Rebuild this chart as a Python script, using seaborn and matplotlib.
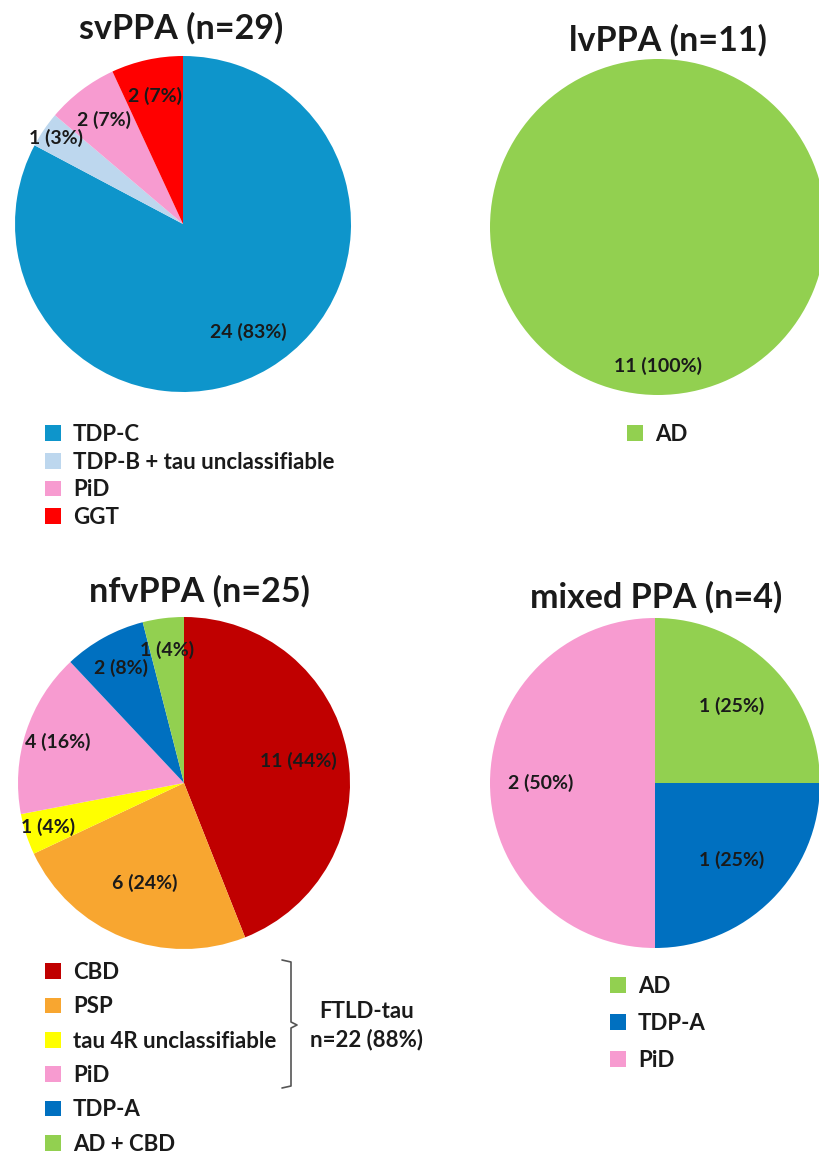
import numpy as np
import matplotlib
matplotlib.use("Agg")
from matplotlib import pyplot as plt
from matplotlib.patches import Patch
from matplotlib.lines import Line2D
import seaborn as sns

sns.set_theme(style="white")
plt.rcParams['font.family'] = ['Lato', 'DejaVu Sans']

# --- data ---
sv_labels = ["TDP-C", "TDP-B + tau unclassifiable", "PiD", "GGT"]
sv_counts = [24, 1, 2, 2]

lv_labels = ["AD"]
lv_counts = [11]

nfv_labels = ["CBD", "PSP", "tau 4R unclassifiable", "PiD", "TDP-A", "AD + CBD"]
nfv_counts = [11, 6, 1, 4, 2, 1]

mixed_labels = ["AD", "TDP-A", "PiD"]
mixed_counts = [1, 1, 2]

colors = {
    "TDP-C": "#0E95CB",
    "TDP-B + tau unclassifiable": "#BDD7EE",
    "PiD": "#F79BD0",
    "GGT": "#FF0000",
    "AD": "#92D050",
    "AD + CBD": "#92D050",
    "CBD": "#C00000",
    "PSP": "#F8A630",
    "tau 4R unclassifiable": "#FFFF00",
    "TDP-A": "#0070C0",
}

W, H = 820, 1154
fig = plt.figure(figsize=(W / 100, H / 100), dpi=100)
TXT = "#1a1a1a"


def fx(x):
    return x / W


def fy(y):
    return 1 - y / H


def draw_pie(cx, cy, r, labels, counts, title, title_xy, label_dist,
             legend_xy, spacing):
    ax = fig.add_axes([fx(cx - r), fy(cy + r), 2 * r / W, 2 * r / H])
    total = sum(counts)
    wedges, _ = ax.pie(counts, colors=[colors[l] for l in labels],
                       startangle=90, counterclock=False,
                       wedgeprops=dict(linewidth=0))
    ax.set_xlim(-1, 1)
    ax.set_ylim(-1, 1)
    ax.set_aspect('equal')
    ax.axis('off')

    # slice labels "n (pct%)"
    for w, n, d in zip(wedges, counts, label_dist):
        mid = np.deg2rad((w.theta1 + w.theta2) / 2)
        ax.text(d * np.cos(mid), d * np.sin(mid),
                "{} ({:.0f}%)".format(n, 100 * n / total),
                ha='center', va='center', fontsize=14,
                fontweight='bold', color=TXT)

    fig.text(fx(title_xy[0]), fy(title_xy[1]), title, ha='center',
             va='center', fontsize=24.5, fontweight='bold', color=TXT)

    handles = [Patch(facecolor=colors[l], edgecolor='none', label=l)
               for l in labels]
    fig.legend(handles=handles, loc='upper left',
               bbox_to_anchor=(fx(legend_xy[0]), fy(legend_xy[1])),
               frameon=False, handlelength=0.7, handleheight=0.7,
               handletextpad=0.55, labelspacing=spacing,
               prop=dict(size=16, weight='bold'),
               borderaxespad=0, borderpad=0, labelcolor=TXT)


draw_pie(183, 224, 168, sv_labels, sv_counts, "svPPA (n=29)", (181, 28),
         [0.75, 0.91, 0.78, 0.78], (45, 424), 0.3)
draw_pie(658, 227, 168, lv_labels, lv_counts, "lvPPA (n=11)", (668, 40),
         [0.83], (627, 424), 0.3)
draw_pie(184, 783, 166, nfv_labels, nfv_counts, "nfvPPA (n=25)", (199, 591),
         [0.70, 0.65, 0.86, 0.8, 0.79, 0.81], (45, 962), 0.6)
draw_pie(655, 783, 165, mixed_labels, mixed_counts, "mixed PPA (n=4)",
         (656, 597), [0.66, 0.66, 0.69], (610, 976), 0.72)

# bracket grouping the FTLD-tau entries
bx = np.array([282, 291, 291, 297, 291, 291, 282])
by = np.array([960, 962, 1022, 1025, 1028, 1086, 1088])
fig.add_artist(Line2D(fx(bx), fy(by), transform=fig.transFigure,
                      color="#555555", linewidth=1.2))
fig.text(fx(367), fy(1012), "FTLD-tau", ha='center', va='center',
         fontsize=16, fontweight='bold', color=TXT)
fig.text(fx(367), fy(1040), "n=22 (88%)", ha='center', va='center',
         fontsize=16, fontweight='bold', color=TXT)

fig.savefig("out.png", dpi=100, facecolor='white')
